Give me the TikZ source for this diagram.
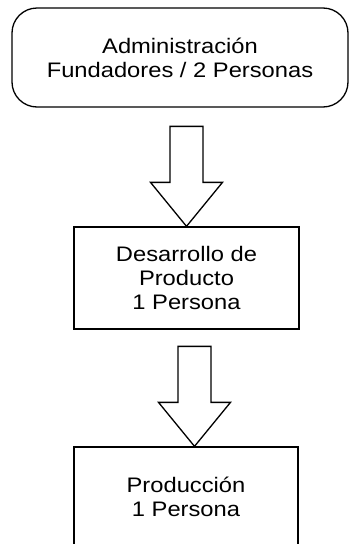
\documentclass[tikz,border=0pt]{standalone}
\usepackage{fontspec}
\setmainfont[FakeStretch=1.13]{Liberation Sans}
\usetikzlibrary{calc,positioning}

\begin{document}
\begin{tikzpicture}[x=1pt,y=-1pt]
        \tikzset{block/.style= {draw, rectangle, line width=1.3pt, align=center, inner sep=0pt,
                 font=\fontsize{21}{24}\selectfont},
        rblock/.style={block, rounded corners=25pt},
        downarrow/.pic={\draw[line width=1.3pt, line join=miter, fill=white]
                 (0,0) -- (-36,-44) -- (-16.5,-44) -- (-16.5,-100) -- (16.5,-100)
                 -- (16.5,-44) -- (36,-44) -- cycle;},
        }
        \useasboundingbox (0,0) rectangle (350,544);
        \node [rblock, minimum width=336pt, minimum height=99pt] (admin) at (180,57.5)
              {Administración\\Fundadores / 2 Personas};
        \node [block, minimum width=225pt, minimum height=102pt] (desarrollo) at (186.5,278)
              {Desarrollo de\\Producto\\1 Persona};
        \node [block, minimum width=224pt, minimum height=100pt] (produccion) at (186,497)
              {Producción\\1 Persona};
%%% arrows
        \pic at (desarrollo.north) {downarrow};
        \pic at ($(produccion.north)+(8.5,0)$) {downarrow};
    \end{tikzpicture}
\end{document}
